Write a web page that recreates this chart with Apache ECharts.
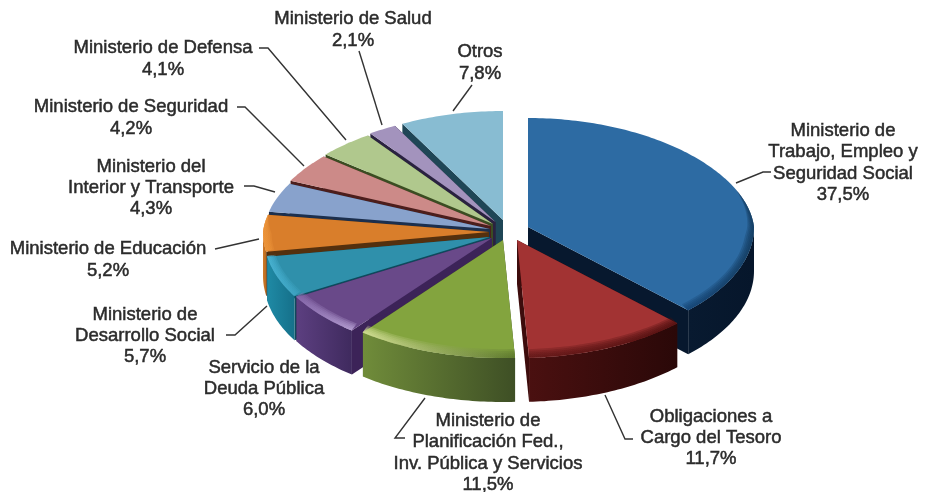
<!DOCTYPE html>
<html><head><meta charset="utf-8">
<style>html,body{margin:0;padding:0;background:#fff}#c{width:927px;height:492px}</style>
<script src="https://cdn.jsdelivr.net/npm/echarts@6/dist/echarts.min.js"></script>
</head><body><div id="c"></div>
<script>
// DATA
var categories = [
  'Ministerio de\nTrabajo, Empleo y\nSeguridad Social',
  'Obligaciones a\nCargo del Tesoro',
  'Ministerio de\nPlanificación Fed.,\nInv. Pública y Servicios',
  'Servicio de la\nDeuda Pública',
  'Ministerio de\nDesarrollo Social',
  'Ministerio de Educación',
  'Ministerio del\nInterior y Transporte',
  'Ministerio de Seguridad',
  'Ministerio de Defensa',
  'Ministerio de Salud',
  'Otros'
];
var values = [37.5, 11.7, 11.5, 6.0, 5.7, 5.2, 4.3, 4.2, 4.1, 2.1, 7.8];

// STYLE
var topColors  = ['#2d6ba3','#a23333','#83a43e','#694989','#2f90ab','#d97e2b','#88a2cc','#cc8a88','#b0c88d','#a393bd','#88bcd2'];
var wallLeft   = ['#081a30','#4a1010','#708c3a','#5c3f80','#1f8aa5','#d07a28','#6f88b0','#a86c6a','#8ea56c','#85779c','#6c9bae'];
var wallRight  = ['#06162b','#2a0808','#3e4f25','#3f2a5e','#15708a','#b86a1e','#6f88b0','#a86c6a','#8ea56c','#85779c','#6c9bae'];
var faceColors = ['#07182e','#3d0c0c','#3c4d20','#3c2358','#0e4a5c','#54300e','#1c2f4d','#4c1e1c','#3b4d22','#2a2240','#1f4656'];
var bevelLeft  = ['#12406f','#5a1414','#dfe9a2','#8a6cb0','#4cb8d8','#f0983c','#88a2cc','#cc8a88','#b0c88d','#a393bd','#88bcd2'];
var bevelRight = ['#103658','#4a0c0c','#56702a','#c2aede','#3fa6c6','#f0983c','#88a2cc','#cc8a88','#b0c88d','#a393bd','#88bcd2'];
var bevelFrom  = [70, 135, 177, 218.4, 240.2, 260.7, 279.4, 294.8, 309.9, 324.6, 332.2];
var bevelTo    = [135, 177, 218.4, 240.2, 260.7, 279.4, 279.4, 294.8, 309.9, 324.6, 332.2];
// apex of every exploded slice
var apexX = [528,517,503,492,490,489,490,491,493,495.5,503];
var apexY = [227,240,240,238,237,232,229,226,224,222,220];
var drawOrder = [10,9,8,7,6,5,4,3,2,0,1];
var RX = 226, RY_BACK = 109, RY_FRONT = 118, DEPTH = 44, PERSP = 0.06;

// LABEL LAYOUT (centre of text block, leader polyline)
var labelX = [843,711,488,264,145,108,151,131,163,353,480];
var labelY = [163,438,453,389,336,260,188,118,59,30,63];
var leaders = [
  [[736,183],[763,172],[771,172]],
  [[605,395],[625,439],[633,439]],
  [[425,398],[395,438],[405,438]],
  null,
  [[267,306],[235,335],[226,335]],
  [[259,239],[215,249]],
  [[275,192],[254,186],[244,186]],
  [[304,166],[245,107],[237,107]],
  [[346,140],[268,48],[259,48]],
  [[382,125],[359,51]],
  [[453,111],[472,85]]
];

var total = values.reduce(function (a, b) { return a + b; }, 0);
var starts = [];
values.reduce(function (acc, v) { starts.push(acc / total * 360); return acc + v; }, 0);

function project(i, deg, frac, depth, fracX) {
  var a = deg * Math.PI / 180, s = Math.sin(a), c = Math.cos(a);
  var rx = c < 0 ? RX : RX * (1 - PERSP * c);
  return [apexX[i] + (fracX === undefined ? frac : fracX) * rx * s,
          apexY[i] - frac * (c > 0 ? RY_BACK : RY_FRONT) * c + (depth || 0)];
}
function arc(i, a0, a1, frac, depth) {
  var n = Math.max(2, Math.ceil(Math.abs(a1 - a0))), pts = [];
  for (var k = 0; k <= n; k++) pts.push(project(i, a0 + (a1 - a0) * k / n, frac, depth));
  return pts;
}
function grad(l, r) {
  return new echarts.graphic.LinearGradient(0, 0, 1, 0, [{offset: 0, color: l}, {offset: 1, color: r}]);
}
function renderSlice(params, api) {
  var i = params.dataIndex;
  var v = api.value(0);
  var a0 = starts[i], a1 = a0 + v / total * 360;
  var base = (drawOrder.indexOf(i) + 1) * 20;
  var kids = [];
  // cut faces
  [a0, a1].forEach(function (a) {
    var r = project(i, a, 1, 0), rb = project(i, a, 1, DEPTH);
    kids.push({type: 'polygon', z2: base,
      shape: {points: [[apexX[i], apexY[i]], r, rb, [apexX[i], apexY[i] + DEPTH]]},
      style: {fill: faceColors[i]}});
  });
  // outer wall (front half only)
  var w0 = Math.max(a0, 90), w1 = Math.min(a1, 270);
  if (w1 > w0) {
    kids.push({type: 'polygon', z2: base + 1,
      shape: {points: arc(i, w0, w1, 1, 0).concat(arc(i, w1, w0, 1, DEPTH))},
      style: {fill: grad(wallLeft[i], wallRight[i])}});
  }
  // top face
  kids.push({type: 'polygon', z2: base + 2,
    shape: {points: [[apexX[i], apexY[i]]].concat(arc(i, a0, a1, 1, 0))},
    style: {fill: topColors[i]}});
  // soft bevel along the front rim
  var b0 = bevelFrom[i], b1 = bevelTo[i];
  if (b1 > b0) {
    [0.925, 0.94, 0.955, 0.97, 0.985].forEach(function (f, n) {
      var inner = [];
      for (var k = 0; k <= 40; k++) {
        var a = b0 + (b1 - b0) * k / 40, t = 1;
        if (i === 0) t = Math.min(1, (a - b0) / 25);
        if (i === 5) t = Math.min(1, (b1 - a) / 10);
        var d = (1 - f) * t;
        inner.push(project(i, a, 1 - d, 0, 1 - d * 0.5));
      }
      kids.push({type: 'polygon', z2: base + 3 + n,
        shape: {points: arc(i, b0, b1, 1, 0).concat(inner.reverse())},
        style: {fill: grad(bevelLeft[i], bevelRight[i]), opacity: 0.28}});
    });
  }
  // leader
  if (leaders[i]) {
    kids.push({type: 'polyline', z2: 400, shape: {points: leaders[i]},
      style: {fill: 'none', stroke: '#333333', lineWidth: 1.4}});
  }
  // label
  kids.push({type: 'text', z2: 401, x: labelX[i], y: labelY[i],
    style: {
      text: categories[i] + '\n' + v.toFixed(1).replace('.', ',') + '%',
      x: 0, y: 0, align: 'center', verticalAlign: 'middle',
      fontFamily: '"Liberation Sans", Arial, sans-serif', fontSize: 18.5, lineHeight: 21.4,
      fill: '#2b2b2b', stroke: '#2b2b2b', lineWidth: 0.5
    }});
  return {type: 'group', children: kids};
}

var chart = echarts.init(document.getElementById('c'), null, {renderer: 'canvas'});
chart.setOption({
  animation: false,
  backgroundColor: '#ffffff',
  series: [{
    type: 'custom',
    coordinateSystem: 'none',
    silent: true,
    renderItem: renderSlice,
    data: values.map(function (v, i) { return {name: categories[i], value: [v]}; })
  }]
});
</script></body></html>
